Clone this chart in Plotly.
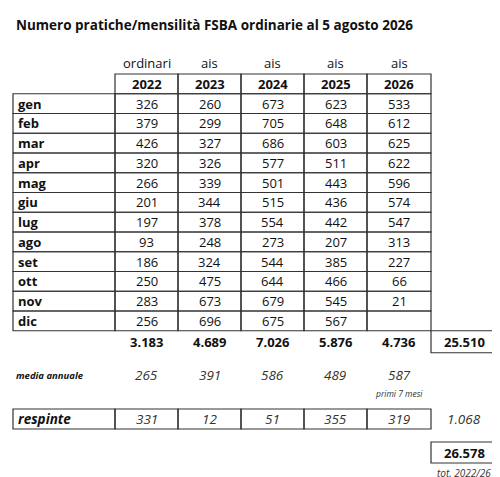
import plotly.graph_objects as go

title = "Numero pratiche/mensilità FSBA ordinarie al 5 agosto 2026"
kinds = ["ordinari", "ais", "ais", "ais", "ais"]
years = ["2022", "2023", "2024", "2025", "2026"]
months = ["gen", "feb", "mar", "apr", "mag", "giu", "lug", "ago", "set", "ott", "nov", "dic"]
values = [
    [326, 379, 426, 320, 266, 201, 197, 93, 186, 250, 283, 256],
    [260, 299, 327, 326, 339, 344, 378, 248, 324, 475, 673, 696],
    [673, 705, 686, 577, 501, 515, 554, 273, 544, 644, 679, 675],
    [623, 648, 603, 511, 443, 436, 442, 207, 385, 466, 545, 567],
    [533, 612, 625, 622, 596, 574, 547, 313, 227, 66, 21, None],
]
totals = ["3.183", "4.689", "7.026", "5.876", "4.736"]
grand_total = "25.510"
media = [265, 391, 586, 489, 587]
respinte = [331, 12, 51, 355, 319]
respinte_total = "1.068"
overall = "26.578"

FONT = "Open Sans"
col_x = [107, 170, 233, 296, 359, 423]
right_x = 489
label_x0 = 5
row_top = 66
row_h = 19.75
line = dict(color="#333", width=1.2)

shapes, ann = [], []

def box(x0, y0, x1, y1):
    shapes.append(dict(type="rect", xref="x", yref="y", x0=x0, y0=y0, x1=x1, y1=y1, line=line))

def txt(x, y, s, size=13, bold=False, italic=False, anchor="center", color="#111"):
    if bold:
        s = f"<b>{s}</b>"
    if italic:
        s = f"<i>{s}</i>"
    ann.append(dict(x=x, y=y, xref="x", yref="y", text=s, showarrow=False, xanchor=anchor,
                    yanchor="middle", font=dict(family=FONT, size=size, color=color)))

txt(6, 17, title, size=13.5, bold=True, anchor="left")

centers = [(col_x[i] + col_x[i + 1]) / 2 for i in range(5)]
for i in range(5):
    txt(centers[i], 55, kinds[i])
    box(col_x[i], row_top, col_x[i + 1], row_top + row_h)
    txt(centers[i], row_top + row_h / 2, years[i], bold=True)

for r, m in enumerate(months):
    y0 = row_top + row_h * (r + 1)
    box(label_x0, y0, col_x[0], y0 + row_h)
    txt(label_x0 + 3, y0 + row_h / 2, m, bold=True, anchor="left")
    for i in range(5):
        box(col_x[i], y0, col_x[i + 1], y0 + row_h)
        v = values[i][r]
        if v is not None:
            txt(centers[i], y0 + row_h / 2, str(v))

rc = (col_x[5] + right_x) / 2
tot_y0 = row_top + row_h * 13
for i in range(5):
    txt(centers[i], tot_y0 + 11, totals[i], bold=True)
box(col_x[5], tot_y0, right_x, tot_y0 + 22)
txt(rc, tot_y0 + 11, grand_total, bold=True)

txt(6, 367, "media annuale", size=9.5, bold=True, italic=True, anchor="left")
for i in range(5):
    txt(centers[i], 367, str(media[i]), size=13.5, italic=True, color="#333")
txt(centers[4], 385, "primi 7 mesi", size=8.5, italic=True, color="#333")

box(label_x0, 401, col_x[0], 421)
txt(label_x0 + 3, 411, "respinte", size=13.5, bold=True, italic=True, anchor="left")
for i in range(5):
    box(col_x[i], 401, col_x[i + 1], 421)
    txt(centers[i], 411, str(respinte[i]), size=13.5, italic=True, color="#333")
txt(rc, 411, respinte_total, size=13.5, italic=True, color="#333")

box(col_x[5], 434, right_x, 455)
txt(rc, 444.5, overall, bold=True)
txt(rc, 465, "tot. 2022/26", size=10, italic=True, color="#333")

fig = go.Figure()
fig.update_layout(
    width=500, height=477, margin=dict(l=0, r=0, t=0, b=0),
    paper_bgcolor="white", plot_bgcolor="white",
    xaxis=dict(range=[0, 500], visible=False, fixedrange=True),
    yaxis=dict(range=[477, 0], visible=False, fixedrange=True),
    shapes=shapes, annotations=ann, showlegend=False,
)
fig.write_html("out.html", config={"displayModeBar": False})
